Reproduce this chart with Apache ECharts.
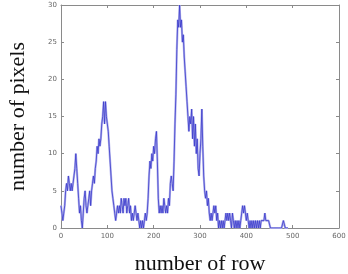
<!DOCTYPE html>
<html><head><meta charset="utf-8">
<script src="https://cdn.jsdelivr.net/npm/echarts@6/dist/echarts.min.js"></script>
<style>html,body{margin:0;padding:0;background:#fff}#c{width:348px;height:274px}</style>
</head><body><div id="c"></div>
<script>
const rows = [];
for (let r = 0; r <= 490; r += 2) rows.push(r);
const pixels = [
3,2,1,2,3,5, 6,5,7,6,5, 6,5,6,7,8, 10,8,6,4, 2,3,1,0,2, 4,5,3,2,
3,4,5,3,5, 6,7,6,8,9, 11,10,12,11,12, 14,15,17,14,17, 15,14,13,11,9,
7,5,4,3,2, 1,2,3,2,3, 2,4,3,2,4, 3,4,2,3,4, 2,3,1,2,1, 2,3,2,1,2,
1,0,1,0,1, 0,1,2,1,2, 4,7,9,8,10, 9,11,10,12,13, 9,4,2,3,2,
3,2,4,3,2, 3,2,4,3,6, 7,6,5,9,14, 18,24,28,27,30, 27,28,25,26,23,
21,19,17,15,13, 15,14,16,12,15, 11,14,10,12,8, 7,10,12,16,11,
7,5,4,5,3, 4,2,1,2,1, 2,3,2,3,1, 2,0,1,0,1, 0,1,0,1,2, 1,2,1,2,1,
0,2,1,0,1, 0,1,0,1,0, 1,2,3,2,3, 2,1,2,1,0, 1,0,1,0,1, 0,1,0,1,0,
1,0,1,1,1, 1,2,1,1,1, 1,1,0,0,0, 0,0,0,0,0, 0,0,0,0,0, 0,1,1,0,0, 0,0
];
const xTicks = [0,100,200,300,400,500,600];
const yTicks = [0,5,10,15,20,25,30];
const data = rows.map((r,i)=>[r, pixels[i]]);

const chart = echarts.init(document.getElementById('c'));
const axisCol = '#8a8a8a';
const lab = {color:'#666', fontSize:7, fontFamily:'DejaVu Sans'};
const line = {show:true, onZero:false, lineStyle:{color:axisCol}};
const tick = {show:true, inside:true, length:3, lineStyle:{color:axisCol}};
chart.setOption({
  animation:false,
  grid:{left:61, right:9, top:5, bottom:46, containLabel:false, outerBoundsMode:'none'},
  xAxis:[
    {type:'value', min:xTicks[0], max:xTicks[xTicks.length-1], interval:100, position:'bottom',
     axisLine:line, axisTick:tick,
     axisLabel:Object.assign({margin:5}, lab), splitLine:{show:false},
     name:'number of row', nameLocation:'middle', nameGap:25,
     nameTextStyle:{fontFamily:'Liberation Serif', fontSize:22, color:'#111'}},
    {type:'value', min:xTicks[0], max:xTicks[xTicks.length-1], interval:100, position:'top',
     axisLine:line, axisTick:tick, axisLabel:{show:false}, splitLine:{show:false}}
  ],
  yAxis:[
    {type:'value', min:yTicks[0], max:yTicks[yTicks.length-1], interval:5, position:'left',
     axisLine:line, axisTick:tick,
     axisLabel:Object.assign({margin:4}, lab), splitLine:{show:false},
     name:'number of pixels', nameLocation:'middle', nameGap:32,
     nameTextStyle:{fontFamily:'Liberation Serif', fontSize:22, color:'#111'}},
    {type:'value', min:yTicks[0], max:yTicks[yTicks.length-1], interval:5, position:'right',
     axisLine:line, axisTick:tick, axisLabel:{show:false}, splitLine:{show:false}}
  ],
  series:[
    {type:'line', data:data, showSymbol:false, xAxisIndex:0, yAxisIndex:0,
     lineStyle:{color:'#b4b4ec', width:2.2}, z:1},
    {type:'line', data:data, showSymbol:false, xAxisIndex:0, yAxisIndex:0,
     lineStyle:{color:'#3a3acc', width:0.8}, z:2}
  ]
});
</script></body></html>
